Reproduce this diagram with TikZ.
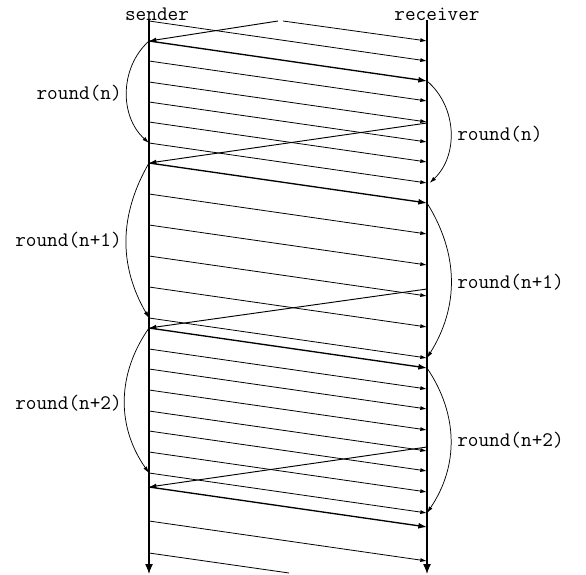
\documentclass[tikz,border=0pt]{standalone}
\usetikzlibrary{arrows.meta}
\begin{document}
\begin{tikzpicture}[x=0.75pt,y=-0.75pt,
    axis/.style={line width=1pt,-{Latex[length=7.5pt,width=6pt]}},
    pkt/.style={line width=0.6pt,-{Latex[length=5pt,width=3pt]}},
    lead/.style={line width=1pt,-{Latex[length=6.5pt,width=4.5pt]}},
    ack/.style={line width=0.7pt,-{Latex[length=5.5pt,width=3.5pt]}},
    rnd/.style={line width=0.55pt,-{Latex[length=5pt,width=3pt]}},
    lbl/.style={font=\fontsize{15.5}{18}\selectfont\ttfamily,inner sep=0pt}]
  \useasboundingbox (0,0) rectangle (586,575);
  \node[lbl,anchor=base] (snd) at (157,20) {sender};
  \node[lbl,anchor=base] (rcv) at (437,20) {receiver};
  \coordinate (stop) at (149,20); \coordinate (sbot) at (149,574);
  \coordinate (rtop) at (427,20); \coordinate (rbot) at (427,574);
  \draw[axis] (stop) -- (sbot);
  \draw[axis] (rtop) -- (rbot);
  % data packets
  \foreach \t [count=\i] in {21,61,82,102,122,143,194,225,256,287,318,349,369,390,411,431,452,473,521}{
    \coordinate (d\i) at (149,\t);
    \coordinate (r\i) at (427,\t+40);
    \draw[pkt] (d\i) -- (r\i);
  }
  % first packet of each round
  \foreach \t [count=\i] in {41,163,328,487}{
    \coordinate (f\i) at (149,\t);
    \coordinate (g\i) at (427,\t+40);
    \draw[lead] (f\i) -- (g\i);
  }
  % acks
  \foreach \t/\j in {123/2,289/3,447/4}{
    \coordinate (k\j) at (427,\t);
    \draw[ack] (k\j) -- (f\j);
  }
  \coordinate (k1) at (278,21); \coordinate (d0) at (283,21);
  \coordinate (r0) at (427,41);
  \draw[ack] (k1) -- (f1);
  \draw[pkt] (d0) -- (r0);
  \coordinate (d20) at (149,553); \coordinate (tail) at (289,573);
  \draw[line width=0.6pt] (d20) -- (tail);
  % rounds
  \draw[rnd] (f1) to[bend right=48] (d6);
  \draw[rnd] (f2) to[bend right=30] (d11);
  \draw[rnd] (f3) to[bend right=35] (d18);
  \draw[rnd] (g1) to[bend left=48] ([xshift=2pt]r6);
  \draw[rnd] (g2) to[bend left=32] (r11);
  \draw[rnd] (g3) to[bend left=34] (r18);
  \node[lbl,anchor=base east] (ln) at (122,99) {round(n)};
  \node[lbl,anchor=base west] (rn) at (457,140) {round(n)};
  \node[lbl,anchor=base east] (ln1) at (122,246) {round(n+1)};
  \node[lbl,anchor=base west] (rn1) at (457,288) {round(n+1)};
  \node[lbl,anchor=base east] (ln2) at (122,409) {round(n+2)};
  \node[lbl,anchor=base west] (rn2) at (457,446) {round(n+2)};
\end{tikzpicture}
\end{document}
